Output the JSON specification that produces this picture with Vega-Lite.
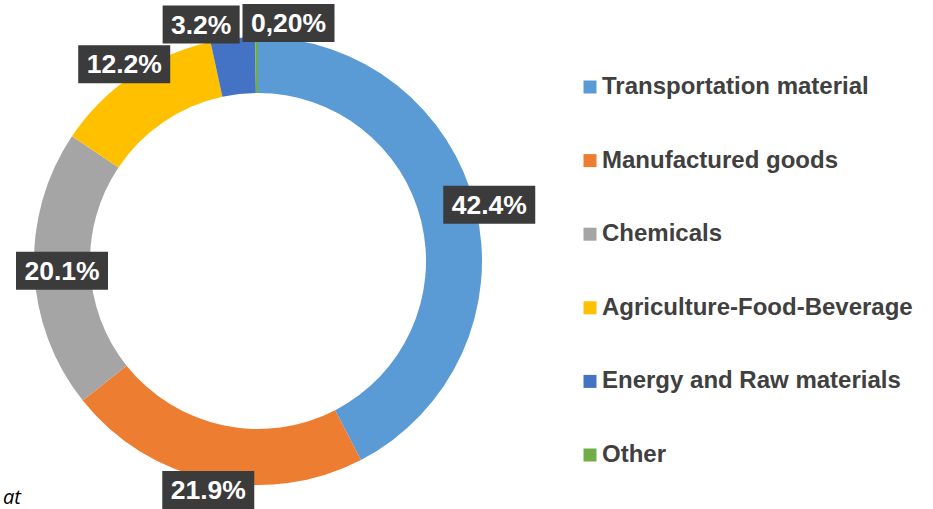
{
  "$schema": "https://vega.github.io/schema/vega-lite/v6.json",
  "width": 516,
  "height": 522,
  "padding": 0,
  "background": "white",
  "config": {"view": {"stroke": null}},
  "title": {"text": "at", "orient": "bottom", "anchor": "start", "frame": "group", "offset": -18, "dx": 3, "baseline": "alphabetic", "font": "Open Sans", "fontSize": 20, "fontStyle": "italic", "fontWeight": "normal", "color": "#000000"},
  "data": {"values": [
    {"category": "Transportation material", "value": 42.4, "label": "42.4%"},
    {"category": "Manufactured goods", "value": 21.9, "label": "21.9%"},
    {"category": "Chemicals", "value": 20.1, "label": "20.1%"},
    {"category": "Agriculture-Food-Beverage", "value": 12.2, "label": "12.2%"},
    {"category": "Energy and Raw materials", "value": 3.2, "label": "3.2%"},
    {"category": "Other", "value": 0.2, "label": "0,20%"}
  ]},
  "layer": [
    {
      "mark": {"type": "arc", "outerRadius": 224, "innerRadius": 168},
      "encoding": {
        "theta": {"field": "value", "type": "quantitative", "stack": true},
        "order": {"field": "value", "sort": "descending"},
        "color": {
          "field": "category", "type": "nominal",
          "scale": {
            "domain": ["Transportation material", "Manufactured goods", "Chemicals", "Agriculture-Food-Beverage", "Energy and Raw materials", "Other"],
            "range": ["#5B9BD5", "#ED7D31", "#A5A5A5", "#FFC000", "#4472C4", "#70AD47"]
          },
          "legend": {
            "orient": "none", "legendX": 578, "legendY": 75, "title": null,
            "symbolType": "square", "symbolSize": 169, "symbolStrokeWidth": 0,
            "labelFontSize": 24, "labelFontWeight": "bold", "labelFont": "Liberation Sans",
            "labelColor": "#404040", "rowPadding": 49.6, "labelOffset": 0, "padding": 0, "labelLimit": 400
          }
        }
      }
    },
    {
      "transform": [
        {"stack": "value", "groupby": [], "sort": [{"field": "value", "order": "descending"}], "as": ["v0", "v1"]},
        {"joinaggregate": [{"op": "sum", "field": "value", "as": "total"}]},
        {"calculate": "PI * (datum.v0 + datum.v1) / datum.total", "as": "mid"},
        {"calculate": "max(238 * sin(datum.mid), -196) + (datum.value < 1 ? 32 : (datum.value < 5 ? -30 : 0))", "as": "lx"},
        {"calculate": "max(238 * cos(datum.mid), -229)", "as": "ly"}
      ],
      "layer": [
        {
          "mark": {"type": "point", "filled": true, "fill": "#3B3B3B", "opacity": 1, "size": 8464, "strokeWidth": 0},
          "encoding": {
            "x": {"field": "lx", "type": "quantitative", "scale": {"domain": [-258, 258], "nice": false, "zero": false}, "axis": null},
            "y": {"field": "ly", "type": "quantitative", "scale": {"domain": [-261, 261], "nice": false, "zero": false}, "axis": null},
            "shape": {"condition": {"test": "length(datum.label) < 5", "value": "M-0.837,-0.413H0.837V0.413H-0.837Z"}, "value": "M-1,-0.413H1V0.413H-1Z"}
          }
        },
        {
          "mark": {"type": "text", "color": "white", "fontSize": 26.5, "fontWeight": "bold", "font": "Liberation Sans", "baseline": "middle", "align": "center", "dy": 1},
          "encoding": {
            "x": {"field": "lx", "type": "quantitative"},
            "y": {"field": "ly", "type": "quantitative"},
            "text": {"field": "label", "type": "nominal"}
          }
        }
      ]
    }
  ]
}
